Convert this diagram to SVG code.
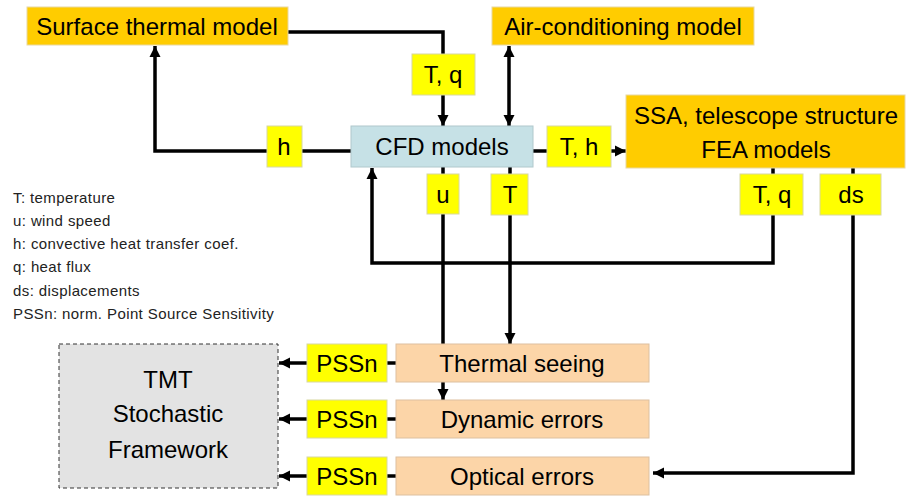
<svg xmlns="http://www.w3.org/2000/svg" width="906" height="496" viewBox="0 0 906 496">
<style>
.t{font-family:"Liberation Sans",Arial,sans-serif;font-size:24px;fill:#000;text-anchor:middle}
.lg{font-family:"Liberation Sans",Arial,sans-serif;font-size:15px;letter-spacing:0.4px;fill:#222}
.or{fill:#FFCC00;stroke:#E8D8A0;stroke-width:1}
.ye{fill:#FFFF00;stroke:#D8D8A0;stroke-width:1}
.bl{fill:#C6E1E6;stroke:#B0C8CC;stroke-width:1}
.pe{fill:#FCD5A8;stroke:#DDC0A0;stroke-width:1}
.c{fill:none;stroke:#000;stroke-width:3.5}
</style>
<defs>
<marker id="ah" markerUnits="userSpaceOnUse" markerWidth="12" markerHeight="12" refX="11" refY="6" orient="auto-start-reverse">
<path d="M0,0.5 L11,6 L0,11.5 z" fill="#000"/>
</marker>
</defs>
<g id="connectors">
<path class="c" d="M288,32 H443 V126" marker-end="url(#ah)"/>
<path class="c" d="M351,151 H155 V46" marker-end="url(#ah)"/>
<path class="c" d="M509,46 V126" marker-start="url(#ah)" marker-end="url(#ah)"/>
<path class="c" d="M533,151 H626" marker-end="url(#ah)"/>
<path class="c" d="M773,168 V263 H372 V168" marker-end="url(#ah)"/>
<path class="c" d="M443,167 V400" marker-end="url(#ah)"/>
<path class="c" d="M510,167 V344" marker-end="url(#ah)"/>
<path class="c" d="M853,168 V473 H653" marker-end="url(#ah)"/>
<path class="c" d="M396,363 H279" marker-end="url(#ah)"/>
<path class="c" d="M396,419 H279" marker-end="url(#ah)"/>
<path class="c" d="M396,476 H279" marker-end="url(#ah)"/>
</g>
<g id="surface-thermal-model"><rect class="or" x="27" y="7" width="261" height="38"/><text class="t" x="157" y="35">Surface thermal model</text></g>
<g id="air-conditioning-model"><rect class="or" x="492" y="7" width="262" height="38"/><text class="t" x="623" y="35">Air-conditioning model</text></g>
<g id="label-tq-top"><rect class="ye" x="412" y="54" width="63" height="41"/><text class="t" x="443" y="83">T, q</text></g>
<g id="cfd-models"><rect class="bl" x="351" y="126" width="182" height="41"/><text class="t" x="442" y="155">CFD models</text></g>
<g id="label-h"><rect class="ye" x="267" y="126" width="35" height="41"/><text class="t" x="284" y="155">h</text></g>
<g id="label-th"><rect class="ye" x="547" y="126" width="64" height="41"/><text class="t" x="579" y="155">T, h</text></g>
<g id="ssa-fea-models"><rect class="or" x="626" y="95" width="279" height="73"/><text class="t" x="766" y="124">SSA, telescope structure</text><text class="t" x="766" y="158">FEA models</text></g>
<g id="label-u"><rect class="ye" x="427" y="174" width="32" height="40"/><text class="t" x="443" y="203">u</text></g>
<g id="label-t"><rect class="ye" x="491" y="174" width="37" height="41"/><text class="t" x="510" y="203">T</text></g>
<g id="label-tq-bottom"><rect class="ye" x="740" y="174" width="63" height="41"/><text class="t" x="772" y="203">T, q</text></g>
<g id="label-ds"><rect class="ye" x="820" y="174" width="61" height="41"/><text class="t" x="851" y="203">ds</text></g>
<g id="legend">
<text class="lg" x="13" y="203">T: temperature</text>
<text class="lg" x="13" y="226">u: wind speed</text>
<text class="lg" x="13" y="249">h: convective heat transfer coef.</text>
<text class="lg" x="13" y="272">q: heat flux</text>
<text class="lg" x="13" y="296">ds: displacements</text>
<text class="lg" x="13" y="319">PSSn: norm. Point Source Sensitivity</text>
</g>
<g id="tmt-stochastic-framework"><rect x="59" y="344" width="219" height="144" fill="#E3E3E3" stroke="#333" stroke-width="1" stroke-dasharray="4,3"/><text class="t" x="168" y="388">TMT</text><text class="t" x="168" y="422">Stochastic</text><text class="t" x="168" y="458">Framework</text></g>
<g id="thermal-seeing"><rect class="pe" x="396" y="344" width="253" height="38"/><text class="t" x="522" y="372">Thermal seeing</text></g>
<g id="dynamic-errors"><rect class="pe" x="396" y="400" width="253" height="38"/><text class="t" x="522" y="428">Dynamic errors</text></g>
<g id="optical-errors"><rect class="pe" x="396" y="457" width="253" height="38"/><text class="t" x="522" y="485">Optical errors</text></g>
<g id="pssn-1"><rect class="ye" x="307" y="344" width="80" height="38"/><text class="t" x="347" y="372">PSSn</text></g>
<g id="pssn-2"><rect class="ye" x="307" y="400" width="80" height="38"/><text class="t" x="347" y="428">PSSn</text></g>
<g id="pssn-3"><rect class="ye" x="307" y="457" width="80" height="38"/><text class="t" x="347" y="485">PSSn</text></g>
</svg>
